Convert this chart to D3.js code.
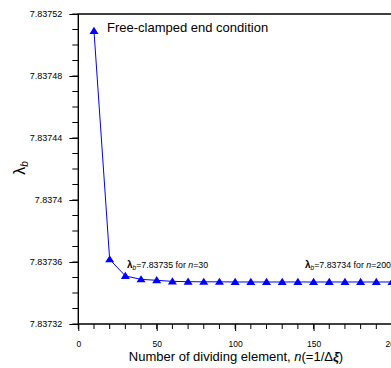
<!DOCTYPE html>
<html>
<head>
<meta charset="utf-8">
<script src="https://cdn.jsdelivr.net/npm/d3@7"></script>
<style>
  body { margin: 0; background: #fff; }
  svg { display: block; font-family: Arial, "Liberation Sans", sans-serif; }
</style>
</head>
<body>
<svg width="391" height="368"></svg>
<script>
// number of dividing elements and eigenvalue
const nValues = [10, 20, 30, 40, 50, 60, 70, 80, 90, 100, 110, 120, 130, 140, 150, 160, 170, 180, 190, 200]
const lambdaValues = [7.837509, 7.8373617, 7.837351, 7.8373488, 7.8373482, 7.8373475, 7.8373473, 7.8373472, 7.8373472, 7.8373471,
  7.8373471, 7.8373471, 7.8373471, 7.8373471, 7.8373471, 7.8373471, 7.8373471, 7.8373471, 7.8373471, 7.8373471]
const yTicks = [7.83732, 7.83736, 7.8374, 7.83744, 7.83748, 7.83752]
const yTickLabels = ['7.83732', '7.83736', '7.8374', '7.83744', '7.83748', '7.83752']
const xTicks = [0, 50, 100, 150, 200]

const data = nValues.map((n, i) => ({n: n, v: lambdaValues[i]}))

const mLeft = 78.3, mTop = 14, mBottom = 324, mRight = 392
const svg = d3.select('svg')

const x = d3.scaleLinear([0, 200], [mLeft, mRight])
const y = d3.scaleLinear([7.83732, 7.83752], [mBottom, mTop])

// minor ticks
const yMinor = d3.range(0, 21).map(i => 7.83732 + i * 0.00001)
const xMinor = d3.range(0, 21).map(i => i * 10)

svg.append('g').selectAll('line').data(yMinor).enter().append('line')
  .attr('x1', mLeft - 6).attr('x2', mLeft)
  .attr('y1', d => y(d)).attr('y2', d => y(d))
  .attr('stroke', '#000').attr('stroke-width', 1)

svg.append('g').selectAll('line').data(xMinor).enter().append('line')
  .attr('x1', d => x(d)).attr('x2', d => x(d))
  .attr('y1', mBottom).attr('y2', mBottom + 5)
  .attr('stroke', '#000').attr('stroke-width', 1)

// y axis
const yAxis = d3.axisLeft(y).tickValues(yTicks).tickSize(9).tickPadding(7)
  .tickFormat((d, i) => yTickLabels[i])
svg.append('g').attr('transform', `translate(${mLeft},0)`)
  .call(yAxis)
  .call(g => g.select('.domain').remove())
  .call(g => g.selectAll('text').style('font-size', '9px').attr('fill', '#000').attr('font-family', 'Arial, "Liberation Sans", sans-serif'))

// x axis
const xAxis = d3.axisBottom(x).tickValues(xTicks).tickSize(7).tickPadding(10)
svg.append('g').attr('transform', `translate(0,${mBottom})`)
  .call(xAxis)
  .call(g => g.select('.domain').remove())
  .call(g => g.selectAll('text').style('font-size', '8.5px').attr('fill', '#000').attr('font-family', 'Arial, "Liberation Sans", sans-serif'))

// frame (left, top, bottom)
svg.append('path')
  .attr('d', `M${mRight},${mTop}H${mLeft}V${mBottom}H${mRight}`)
  .attr('fill', 'none').attr('stroke', '#000').attr('stroke-width', 1.4)

// line and markers
const line = d3.line().x(d => x(d.n)).y(d => y(d.v))
svg.append('path').datum(data)
  .attr('d', line)
  .attr('fill', 'none').attr('stroke', '#0000ff').attr('stroke-width', 1)

svg.append('g').selectAll('path').data(data).enter().append('path')
  .attr('d', 'M0,-4.2L4.5,3L-4.5,3Z')
  .attr('transform', d => `translate(${x(d.n)},${y(d.v)})`)
  .attr('fill', '#0000ff')

// annotations
svg.append('text').attr('x', 107).attr('y', 32)
  .style('font-size', '13px').text('Free-clamped end condition')

function lambdaNote(xp, yp, val, n) {
  const t = svg.append('text').attr('x', xp).attr('y', yp).style('font-size', '8.8px')
  t.append('tspan').attr('font-weight', 'bold').style('font-size', '10px').text('λ')
  t.append('tspan').attr('font-style', 'italic').attr('dy', 2).style('font-size', '6.5px').text('b')
  t.append('tspan').attr('dy', -2).text('=' + val + ' for ')
  t.append('tspan').attr('font-style', 'italic').text('n')
  t.append('tspan').text('=' + n)
}
lambdaNote(127, 268, '7.83735', 30)
lambdaNote(305, 268, '7.83734', 200)

// axis titles
const xt = svg.append('text').attr('x', 236).attr('y', 361).attr('text-anchor', 'middle').style('font-size', '13px')
xt.append('tspan').text('Number of dividing element, ')
xt.append('tspan').attr('font-style', 'italic').text('n')
xt.append('tspan').text('(=1/Δ')
xt.append('tspan').attr('font-style', 'italic').attr('font-weight', 'bold').text('ξ')
xt.append('tspan').text(')')

const yt = svg.append('text').attr('transform', 'translate(25,168) rotate(-90)').attr('text-anchor', 'middle').style('font-size', '16px')
yt.append('tspan').text('λ')
yt.append('tspan').attr('font-style', 'italic').attr('dy', 3).style('font-size', '10px').text('b')
</script>
</body>
</html>
